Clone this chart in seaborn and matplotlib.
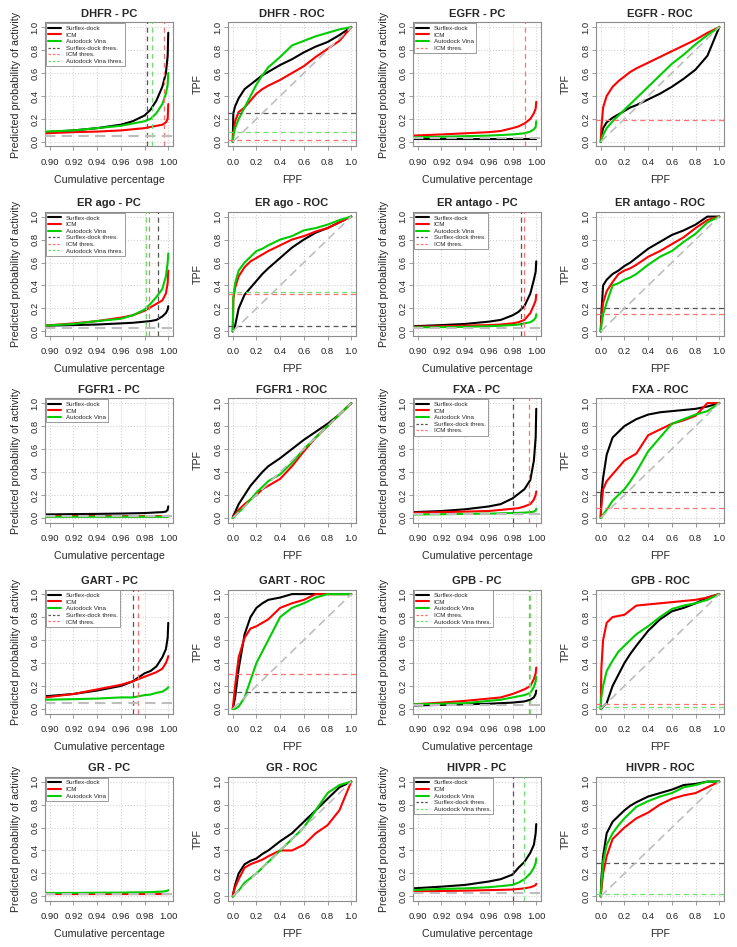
import numpy as np
import pandas as pd
import matplotlib
matplotlib.use("Agg")
import matplotlib.pyplot as plt
import seaborn as sns
from matplotlib.lines import Line2D

# === Style ===
sns.set_theme(style="white")
plt.rcParams['font.family'] = ['Liberation Sans', 'DejaVu Sans']

METHODS = ["Surflex-dock", "ICM", "Autodock Vina"]
COLORS = {"Surflex-dock": "#000000", "ICM": "#FF0000", "Autodock Vina": "#00CD00"}
THRES_COLORS = {"Surflex-dock": "#555555", "ICM": "#FF7070", "Autodock Vina": "#70E070"}

# === Data ===
# predictiveness curves: cumulative percentage grid
PC_X = [0.896, 0.92, 0.94, 0.96, 0.97, 0.98, 0.985, 0.99, 0.995, 0.998, 0.9995, 1.0]
# ROC curves: false positive fraction grid
ROC_X = [0.0, 0.005, 0.02, 0.05, 0.1, 0.15, 0.2, 0.25, 0.3, 0.4, 0.5, 0.6, 0.7, 0.8, 0.9, 1.0]

TARGETS = ["DHFR", "EGFR", "ER ago", "ER antago", "FGFR1", "FXA", "GART", "GPB", "GR", "HIVPR"]

dhfr_pc = {
    "Surflex-dock": [0.085, 0.10, 0.12, 0.15, 0.18, 0.23, 0.28, 0.36, 0.48, 0.60, 0.75, 0.95],
    "ICM": [0.075, 0.085, 0.09, 0.10, 0.11, 0.12, 0.13, 0.14, 0.15, 0.17, 0.20, 0.33],
    "Autodock Vina": [0.09, 0.10, 0.12, 0.14, 0.16, 0.18, 0.20, 0.25, 0.33, 0.42, 0.50, 0.60],
}
egfr_pc = {
    "Surflex-dock": [0.025, 0.025, 0.025, 0.025, 0.025, 0.025, 0.025, 0.025, 0.025, 0.025, 0.025, 0.025],
    "ICM": [0.055, 0.065, 0.075, 0.085, 0.095, 0.12, 0.135, 0.16, 0.20, 0.25, 0.29, 0.35],
    "Autodock Vina": [0.04, 0.045, 0.05, 0.055, 0.06, 0.065, 0.07, 0.075, 0.09, 0.11, 0.13, 0.18],
}
erago_pc = {
    "Surflex-dock": [0.05, 0.055, 0.06, 0.07, 0.075, 0.085, 0.09, 0.10, 0.13, 0.16, 0.19, 0.22],
    "ICM": [0.05, 0.07, 0.09, 0.12, 0.14, 0.18, 0.21, 0.24, 0.27, 0.33, 0.42, 0.53],
    "Autodock Vina": [0.05, 0.065, 0.09, 0.11, 0.14, 0.19, 0.24, 0.30, 0.37, 0.48, 0.60, 0.68],
}
erantago_pc = {
    "Surflex-dock": [0.045, 0.055, 0.065, 0.085, 0.10, 0.14, 0.17, 0.22, 0.33, 0.45, 0.52, 0.61],
    "ICM": [0.04, 0.045, 0.05, 0.055, 0.06, 0.07, 0.08, 0.10, 0.16, 0.23, 0.27, 0.32],
    "Autodock Vina": [0.035, 0.037, 0.04, 0.045, 0.05, 0.055, 0.06, 0.07, 0.08, 0.10, 0.12, 0.15],
}
fgfr1_pc = {
    "Surflex-dock": [0.03, 0.033, 0.035, 0.038, 0.04, 0.042, 0.045, 0.048, 0.05, 0.055, 0.07, 0.10],
    "ICM": [0.016, 0.016, 0.016, 0.015, 0.015, 0.015, 0.015, 0.015, 0.015, 0.015, 0.015, 0.015],
    "Autodock Vina": [0.01, 0.01, 0.01, 0.01, 0.01, 0.01, 0.01, 0.01, 0.01, 0.01, 0.01, 0.012],
}
fxa_pc = {
    "Surflex-dock": [0.05, 0.06, 0.075, 0.10, 0.12, 0.17, 0.21, 0.25, 0.33, 0.50, 0.70, 0.95],
    "ICM": [0.045, 0.05, 0.055, 0.06, 0.07, 0.08, 0.085, 0.10, 0.12, 0.16, 0.20, 0.23],
    "Autodock Vina": [0.03, 0.032, 0.035, 0.037, 0.04, 0.042, 0.044, 0.046, 0.05, 0.055, 0.065, 0.08],
}
gart_pc = {
    "Surflex-dock": [0.11, 0.13, 0.16, 0.20, 0.24, 0.31, 0.33, 0.37, 0.45, 0.52, 0.62, 0.75],
    "ICM": [0.10, 0.13, 0.17, 0.21, 0.24, 0.28, 0.30, 0.32, 0.35, 0.40, 0.44, 0.46],
    "Autodock Vina": [0.08, 0.085, 0.09, 0.10, 0.10, 0.12, 0.125, 0.14, 0.15, 0.17, 0.18, 0.19],
}
gpb_pc = {
    "Surflex-dock": [0.03, 0.035, 0.04, 0.045, 0.05, 0.055, 0.06, 0.065, 0.08, 0.10, 0.13, 0.16],
    "ICM": [0.04, 0.055, 0.07, 0.09, 0.10, 0.13, 0.15, 0.17, 0.20, 0.26, 0.31, 0.36],
    "Autodock Vina": [0.04, 0.045, 0.05, 0.07, 0.08, 0.10, 0.11, 0.12, 0.14, 0.19, 0.24, 0.28],
}
gr_pc = {
    "Surflex-dock": [0.025, 0.025, 0.025, 0.025, 0.025, 0.025, 0.025, 0.025, 0.025, 0.025, 0.025, 0.025],
    "ICM": [0.018, 0.018, 0.018, 0.018, 0.018, 0.018, 0.018, 0.018, 0.018, 0.018, 0.018, 0.018],
    "Autodock Vina": [0.03, 0.03, 0.032, 0.033, 0.035, 0.036, 0.037, 0.04, 0.042, 0.046, 0.05, 0.055],
}
hivpr_pc = {
    "Surflex-dock": [0.07, 0.085, 0.10, 0.13, 0.15, 0.19, 0.25, 0.30, 0.38, 0.45, 0.55, 0.63],
    "ICM": [0.045, 0.047, 0.05, 0.055, 0.057, 0.06, 0.065, 0.07, 0.08, 0.09, 0.10, 0.11],
    "Autodock Vina": [0.055, 0.065, 0.07, 0.08, 0.09, 0.10, 0.12, 0.15, 0.20, 0.25, 0.29, 0.33],
}

dhfr_roc = {
    "Surflex-dock": [0, 0.25, 0.31, 0.38, 0.46, 0.50, 0.54, 0.58, 0.61, 0.67, 0.72, 0.78, 0.83, 0.87, 0.93, 1.0],
    "ICM": [0, 0.08, 0.18, 0.26, 0.30, 0.36, 0.42, 0.46, 0.49, 0.54, 0.60, 0.66, 0.74, 0.81, 0.88, 1.0],
    "Autodock Vina": [0, 0.05, 0.12, 0.20, 0.30, 0.40, 0.50, 0.58, 0.65, 0.74, 0.84, 0.88, 0.92, 0.95, 0.98, 1.0],
}
egfr_roc = {
    "Surflex-dock": [0, 0.05, 0.12, 0.17, 0.21, 0.24, 0.27, 0.30, 0.32, 0.37, 0.42, 0.48, 0.55, 0.63, 0.75, 1.0],
    "ICM": [0, 0.12, 0.30, 0.40, 0.48, 0.53, 0.57, 0.61, 0.64, 0.69, 0.74, 0.79, 0.84, 0.89, 0.95, 1.0],
    "Autodock Vina": [0, 0.02, 0.06, 0.12, 0.18, 0.23, 0.28, 0.33, 0.38, 0.48, 0.58, 0.68, 0.76, 0.85, 0.93, 1.0],
}
erago_roc = {
    "Surflex-dock": [0, 0.02, 0.05, 0.20, 0.32, 0.38, 0.44, 0.50, 0.55, 0.64, 0.73, 0.80, 0.86, 0.90, 0.95, 1.0],
    "ICM": [0, 0.28, 0.38, 0.48, 0.56, 0.61, 0.64, 0.67, 0.70, 0.75, 0.80, 0.83, 0.87, 0.90, 0.95, 1.0],
    "Autodock Vina": [0, 0.30, 0.42, 0.53, 0.60, 0.65, 0.70, 0.72, 0.75, 0.80, 0.83, 0.88, 0.90, 0.93, 0.97, 1.0],
}
erantago_roc = {
    "Surflex-dock": [0, 0.15, 0.40, 0.45, 0.50, 0.53, 0.57, 0.60, 0.64, 0.72, 0.78, 0.84, 0.88, 0.93, 1.0, 1.0],
    "ICM": [0, 0.10, 0.25, 0.35, 0.43, 0.50, 0.53, 0.55, 0.58, 0.65, 0.70, 0.76, 0.82, 0.90, 0.97, 1.0],
    "Autodock Vina": [0, 0.05, 0.15, 0.25, 0.40, 0.42, 0.45, 0.47, 0.50, 0.58, 0.65, 0.70, 0.78, 0.85, 0.95, 1.0],
}
fgfr1_roc = {
    "Surflex-dock": [0, 0.02, 0.05, 0.12, 0.20, 0.28, 0.34, 0.40, 0.45, 0.52, 0.60, 0.68, 0.75, 0.82, 0.90, 1.0],
    "ICM": [0, 0.01, 0.03, 0.07, 0.12, 0.16, 0.20, 0.25, 0.28, 0.34, 0.45, 0.58, 0.70, 0.80, 0.90, 1.0],
    "Autodock Vina": [0, 0.0, 0.02, 0.05, 0.10, 0.16, 0.22, 0.27, 0.32, 0.38, 0.48, 0.60, 0.70, 0.80, 0.90, 1.0],
}
fxa_roc = {
    "Surflex-dock": [0, 0.20, 0.35, 0.55, 0.70, 0.75, 0.80, 0.83, 0.86, 0.90, 0.92, 0.93, 0.94, 0.95, 0.97, 1.0],
    "ICM": [0, 0.10, 0.25, 0.32, 0.38, 0.44, 0.50, 0.53, 0.56, 0.72, 0.77, 0.82, 0.85, 0.89, 1.0, 1.0],
    "Autodock Vina": [0, 0.0, 0.03, 0.07, 0.15, 0.20, 0.25, 0.32, 0.40, 0.58, 0.70, 0.82, 0.86, 0.90, 0.93, 1.0],
}
gart_roc = {
    "Surflex-dock": [0, 0.02, 0.10, 0.35, 0.65, 0.80, 0.88, 0.92, 0.95, 0.97, 1.0, 1.0, 1.0, 1.0, 1.0, 1.0],
    "ICM": [0, 0.05, 0.20, 0.45, 0.62, 0.70, 0.72, 0.75, 0.78, 0.88, 0.92, 0.95, 1.0, 1.0, 1.0, 1.0],
    "Autodock Vina": [0, 0.0, 0.0, 0.02, 0.10, 0.25, 0.40, 0.50, 0.60, 0.80, 0.88, 0.92, 0.97, 1.0, 1.0, 1.0],
}
gpb_roc = {
    "Surflex-dock": [0, 0.0, 0.02, 0.05, 0.20, 0.30, 0.40, 0.48, 0.55, 0.68, 0.78, 0.85, 0.88, 0.92, 0.97, 1.0],
    "ICM": [0, 0.35, 0.60, 0.75, 0.80, 0.81, 0.82, 0.86, 0.90, 0.91, 0.92, 0.93, 0.94, 0.95, 0.97, 1.0],
    "Autodock Vina": [0, 0.10, 0.20, 0.33, 0.42, 0.50, 0.55, 0.60, 0.65, 0.72, 0.80, 0.87, 0.90, 0.92, 0.95, 1.0],
}
gr_roc = {
    "Surflex-dock": [0, 0.03, 0.10, 0.20, 0.28, 0.31, 0.33, 0.37, 0.40, 0.48, 0.55, 0.65, 0.75, 0.85, 0.95, 1.0],
    "ICM": [0, 0.03, 0.08, 0.15, 0.25, 0.28, 0.30, 0.32, 0.35, 0.40, 0.40, 0.45, 0.55, 0.62, 0.75, 1.0],
    "Autodock Vina": [0, 0.0, 0.02, 0.05, 0.12, 0.16, 0.20, 0.25, 0.30, 0.40, 0.50, 0.60, 0.75, 0.90, 0.97, 1.0],
}
hivpr_roc = {
    "Surflex-dock": [0, 0.15, 0.35, 0.55, 0.65, 0.70, 0.75, 0.79, 0.82, 0.87, 0.90, 0.93, 0.97, 0.98, 1.0, 1.0],
    "ICM": [0, 0.05, 0.20, 0.35, 0.50, 0.55, 0.60, 0.64, 0.68, 0.73, 0.80, 0.85, 0.88, 0.90, 0.95, 1.0],
    "Autodock Vina": [0, 0.10, 0.30, 0.45, 0.55, 0.62, 0.68, 0.73, 0.78, 0.83, 0.87, 0.90, 0.95, 0.97, 1.0, 1.0],
}

# thresholds: cumulative percentage (PC) and matching TPF (ROC)
pc_thres = {
    "DHFR": {"Surflex-dock": 0.982, "ICM": 0.996, "Autodock Vina": 0.9865},
    "EGFR": {"ICM": 0.9905},
    "ER ago": {"Surflex-dock": 0.991, "ICM": 0.9835, "Autodock Vina": 0.9815},
    "ER antago": {"Surflex-dock": 0.9868, "ICM": 0.9895},
    "FGFR1": {},
    "FXA": {"Surflex-dock": 0.980, "ICM": 0.9935},
    "GART": {"Surflex-dock": 0.970, "ICM": 0.9748},
    "GPB": {"ICM": 0.9938, "Autodock Vina": 0.9948},
    "GR": {},
    "HIVPR": {"Surflex-dock": 0.9805, "Autodock Vina": 0.990},
}
roc_thres = {
    "DHFR": {"Surflex-dock": 0.25, "ICM": 0.02, "Autodock Vina": 0.09},
    "EGFR": {"ICM": 0.19},
    "ER ago": {"Surflex-dock": 0.05, "ICM": 0.33, "Autodock Vina": 0.34},
    "ER antago": {"Surflex-dock": 0.20, "ICM": 0.15},
    "FGFR1": {},
    "FXA": {"Surflex-dock": 0.23, "ICM": 0.09},
    "GART": {"Surflex-dock": 0.15, "ICM": 0.30},
    "GPB": {"ICM": 0.04, "Autodock Vina": 0.02},
    "GR": {},
    "HIVPR": {"Surflex-dock": 0.29, "Autodock Vina": 0.02},
}
prevalence = [0.05, 0.03, 0.03, 0.03, 0.02, 0.03, 0.05, 0.03, 0.025, 0.03]

pc_data = [dhfr_pc, egfr_pc, erago_pc, erantago_pc, fgfr1_pc, fxa_pc, gart_pc, gpb_pc, gr_pc, hivpr_pc]
roc_data = [dhfr_roc, egfr_roc, erago_roc, erantago_roc, fgfr1_roc, fxa_roc, gart_roc, gpb_roc, gr_roc, hivpr_roc]

# === Layout (pixels of a 737x947 canvas) ===
W, H = 737, 947
COL_LEFT = [45, 228, 413, 596]
ROW_TOP = [22.5, 212, 398.5, 589.5, 777]
BOX_W, BOX_H = 128, 124

BOX_COLOR = "#8C8C8C"
GRID_COLOR = "#D3D3D3"


def make_axes(fig, row, col):
    left = COL_LEFT[col] / W
    bottom = 1 - (ROW_TOP[row] + BOX_H) / H
    ax = fig.add_axes([left, bottom, BOX_W / W, BOX_H / H])
    for sp in ax.spines.values():
        sp.set_color(BOX_COLOR)
        sp.set_linewidth(0.8)
    ax.tick_params(direction="out", length=3, width=0.6, color=BOX_COLOR,
                   labelsize=6.8, labelcolor="#222222", bottom=True, left=True)
    ax.tick_params(axis="x", pad=5)
    ax.tick_params(axis="y", pad=1)
    ax.set_axisbelow(True)
    ax.grid(True, ls=":", color=GRID_COLOR, lw=0.8)
    return ax


def long_frame(xs, curves):
    rows = []
    for m in METHODS:
        for x, y in zip(xs, curves[m]):
            rows.append((x, y, m))
    return pd.DataFrame(rows, columns=["x", "y", "method"])


def finish_y(ax, label, pad):
    ax.set_ylim(-0.04, 1.04)
    ax.set_yticks([0.0, 0.2, 0.4, 0.6, 0.8, 1.0])
    ax.set_yticklabels(["0.0", "0.2", "0.4", "0.6", "0.8", "1.0"])
    for lab in ax.get_yticklabels():
        lab.set_rotation(90)
        lab.set_va("center")
    ax.set_ylabel(label, fontsize=7.7, labelpad=pad)


def draw_pc(ax, name, curves, thres, prev):
    df = long_frame(PC_X, curves)
    sns.lineplot(data=df, x="x", y="y", hue="method", hue_order=METHODS,
                 palette=COLORS, estimator=None, sort=False, legend=False,
                 linewidth=1.5, ax=ax)
    for m in METHODS:
        if m in thres:
            ax.axvline(thres[m], color=THRES_COLORS[m], lw=0.9, ls=(0, (4, 3)), zorder=4)
    ax.axhline(prev, color="#BEBEBE", lw=1.5, ls=(0, (5, 3)), zorder=5)
    ax.set_xlim(0.896, 1.004)
    ax.set_xticks([0.90, 0.92, 0.94, 0.96, 0.98, 1.00])
    ax.set_xticklabels(["0.90", "0.92", "0.94", "0.96", "0.98", "1.00"])
    finish_y(ax, "Predicted probability of activity", 7)
    ax.set_xlabel("Cumulative percentage", fontsize=7.7, labelpad=6)
    ax.set_title(f"{name} - PC", fontsize=8, fontweight="bold", pad=4)

    handles = [Line2D([], [], color=COLORS[m], lw=1.5) for m in METHODS]
    labels = list(METHODS)
    for m in METHODS:
        if m in thres:
            handles.append(Line2D([], [], color=THRES_COLORS[m], lw=0.9, ls=(0, (2, 1.5))))
            labels.append(f"{m} thres.")
    leg = ax.legend(handles, labels, loc="upper left", fontsize=4.5, handlelength=2.0,
                    handletextpad=0.8, borderpad=0.35, labelspacing=0.2,
                    borderaxespad=0.15, fancybox=False, framealpha=1, frameon=True)
    leg.get_frame().set_edgecolor(BOX_COLOR)
    leg.get_frame().set_linewidth(0.6)


def draw_roc(ax, name, curves, thres):
    df = long_frame(ROC_X, curves)
    sns.lineplot(data=df, x="x", y="y", hue="method", hue_order=METHODS,
                 palette=COLORS, estimator=None, sort=False, legend=False,
                 linewidth=1.5, ax=ax)
    ax.plot([0, 1], [0, 1], color="#BEBEBE", lw=1.2, ls=(0, (5, 3)), zorder=5)
    for m in METHODS:
        if m in thres:
            ax.axhline(thres[m], color=THRES_COLORS[m], lw=0.9, ls=(0, (4, 3)), zorder=4)
    ax.set_xlim(-0.04, 1.04)
    ax.set_xticks([0.0, 0.2, 0.4, 0.6, 0.8, 1.0])
    ax.set_xticklabels(["0.0", "0.2", "0.4", "0.6", "0.8", "1.0"])
    finish_y(ax, "TPF", 8)
    ax.set_xlabel("FPF", fontsize=7.7, labelpad=6)
    ax.set_title(f"{name} - ROC", fontsize=8, fontweight="bold", pad=4)


fig = plt.figure(figsize=(W / 100, H / 100), dpi=100)
for k, name in enumerate(TARGETS):
    row = k // 2
    col = (k % 2) * 2
    ax_pc = make_axes(fig, row, col)
    draw_pc(ax_pc, name, pc_data[k], pc_thres[name], prevalence[k])
    ax_roc = make_axes(fig, row, col + 1)
    draw_roc(ax_roc, name, roc_data[k], roc_thres[name])

fig.savefig("out.png", dpi=100, facecolor="white")
plt.close(fig)
